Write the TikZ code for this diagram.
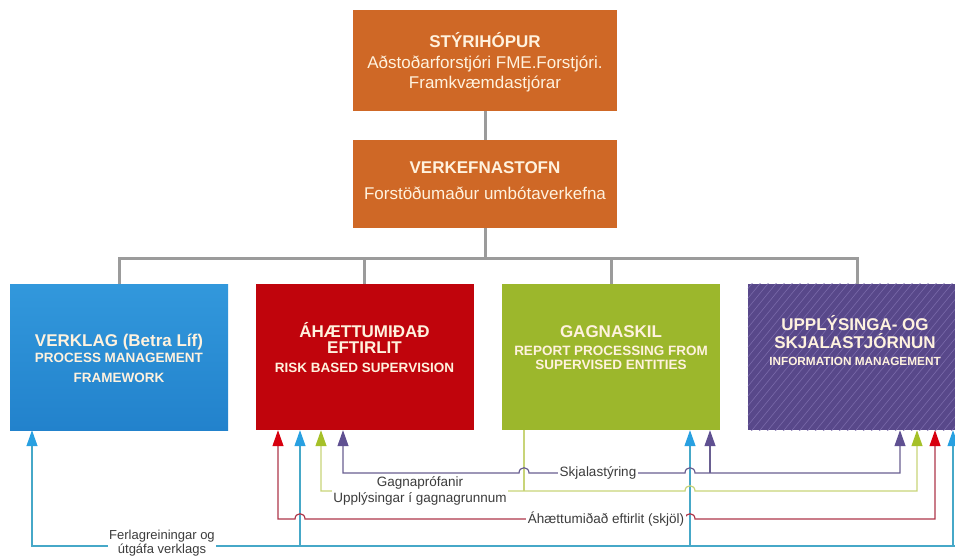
\documentclass[tikz,border=0pt]{standalone}
\usepackage{fontspec}
\setmainfont{Liberation Sans}
\usetikzlibrary{arrows.meta}
\definecolor{orangeB}{RGB}{207,104,38}
\definecolor{blueT}{RGB}{50,152,220}
\definecolor{blueBt}{RGB}{34,130,204}
\definecolor{redB}{RGB}{192,4,12}
\definecolor{greenB}{RGB}{156,183,44}
\definecolor{purpB}{RGB}{88,72,138}
\definecolor{hatchC}{RGB}{122,106,170}
\definecolor{treegray}{RGB}{155,155,155}
\definecolor{cream}{RGB}{255,242,222}
\definecolor{lblgray}{RGB}{60,60,60}
\definecolor{purpL}{RGB}{105,95,145}
\definecolor{greenL}{RGB}{200,212,120}
\definecolor{redL}{RGB}{175,55,75}
\definecolor{blueL}{RGB}{70,168,200}
\definecolor{purpA}{RGB}{95,80,145}
\definecolor{greenA}{RGB}{165,192,40}
\definecolor{redA}{RGB}{215,0,15}
\definecolor{blueA}{RGB}{40,160,225}
\begin{document}
\begin{tikzpicture}[x=1pt,y=-1pt,
  tree/.style={draw=treegray,line width=3},
  topbox/.style={fill=orangeB,minimum width=264,inner sep=0},
  lowbox/.style={minimum width=218,minimum height=146,inner sep=0},
  ttl/.style={anchor=base,text=cream,font=\fontsize{17}{20}\selectfont\bfseries,inner sep=0},
  tsub/.style={anchor=base,text=cream,font=\fontsize{17}{20}\selectfont,inner sep=0},
  ssub/.style={anchor=base,text=cream,font=\fontsize{13.5}{16}\selectfont\bfseries,inner sep=0},
  lbl/.style={text=lblgray,font=\fontsize{13.5}{15}\selectfont,inner sep=1.5},
  conn/.style={line width=1.2},
  arrBoth/.style={arrows={Triangle[width=11pt,length=16pt,color=#1]-Triangle[width=11pt,length=16pt,color=#1]}},
  arrEnd/.style={arrows={-Triangle[width=11pt,length=16pt,color=#1]}},
  arrStart/.style={arrows={Triangle[width=11pt,length=16pt,color=#1]-}}
]
\useasboundingbox (0,0) rectangle (955,555);
\clip (0,0) rectangle (955,555);
\fill[white] (0,0) rectangle (955,555);

% top boxes
\node[topbox,minimum height=101] (sty) at (485,60.5) {};
\node[topbox,minimum height=88] (verk) at (485,184) {};
\node[ttl] (styT) at (485,47) {STÝRIHÓPUR};
\node[tsub] (styA) at (485,68) {Aðstoðarforstjóri FME.Forstjóri.};
\node[tsub] (styB) at (485,88) {Framkvæmdastjórar};
\node[ttl] (verkT) at (485,173) {VERKEFNASTOFN};
\node[tsub] (verkA) at (485,199) {Forstöðumaður umbótaverkefna};

% lower boxes
\node[lowbox,top color=blueT,bottom color=blueBt] (bbox) at (119,357) {};
\node[lowbox,fill=redB] (rbox) at (364.5,357) {};
\node[lowbox,fill=greenB] (gbox) at (611,357) {};
\node[lowbox,fill=purpB] (pbox) at (857,357) {};
\begin{scope}
  \clip (pbox.south west) rectangle (pbox.north east);
  \foreach \i in {0,...,45}{
    \draw[hatchC,line width=0.6] (600+\i*8,440) -- ++(135,-165);
  }
\end{scope}

% tree connectors
\coordinate (j0) at (485,258);
\draw[tree] (sty.south) -- (verk.north);
\draw[tree] (verk.south) -- (j0);
\draw[tree] (bbox.north) |- (j0) -| (pbox.north);
\draw[tree] (rbox.north) -- (rbox.north |- j0);
\draw[tree] (gbox.north) -- (gbox.north |- j0);

% box texts
\node[ttl] (bT1) at (119,346) {VERKLAG (Betra Líf)};
\node[ssub] (bT2) at (119,362) {PROCESS MANAGEMENT};
\node[ssub] (bT3) at (119,382) {FRAMEWORK};
\node[ttl] (rT1) at (364.5,337) {ÁHÆTTUMIÐAÐ};
\node[ttl] (rT2) at (364.5,353) {EFTIRLIT};
\node[ssub] (rT3) at (364.5,372) {RISK BASED SUPERVISION};
\node[ttl] (gT1) at (611,337) {GAGNASKIL};
\node[ssub] (gT2) at (611,355) {REPORT PROCESSING FROM};
\node[ssub] (gT3) at (611,369) {SUPERVISED ENTITIES};
\node[ttl] (pT1) at (855,330) {UPPLÝSINGA- OG};
\node[ttl] (pT2) at (855,348) {SKJALASTJÓRNUN};
\node[ssub,font=\fontsize{11.8}{14}\selectfont\bfseries] (pT3) at (855,365) {INFORMATION MANAGEMENT};

% bus coordinates
\coordinate (b1) at (32,546);
\coordinate (b2) at (300,546);
\coordinate (b3) at (690,546);
\coordinate (b4) at (953,546);
\coordinate (bE) at (970,546);
\coordinate (r1) at (278,519);
\coordinate (r4) at (935,519);
\coordinate (g1) at (321,491);
\coordinate (gj) at (524,491);
\coordinate (g4) at (917,491);
\coordinate (p1) at (343,473);
\coordinate (p2) at (710,473);
\coordinate (p3) at (900,473);

% blue bus
\draw[conn,draw=blueL,arrStart=blueA] (bbox.south -| b1) -- (b1) -- (bE);
\draw[conn,draw=blueL,arrEnd=blueA] (b2) -- (rbox.south -| b2);
\draw[conn,draw=blueL,arrEnd=blueA] (b3) -- (gbox.south -| b3);
\draw[conn,draw=blueL,arrEnd=blueA] (b4) -- (pbox.south -| b4);

% red bus
\draw[conn,draw=redL,arrBoth=redA] (rbox.south -| r1) -- (r1) -- (295,519)
  .. controls (295,512) and (305,512) .. (305,519) -- (685,519)
  .. controls (685,512) and (695,512) .. (695,519) -- (r4) -- (pbox.south -| r4);

% green bus
\draw[conn,draw=greenL,arrBoth=greenA] (rbox.south -| g1) -- (g1) -- (685,491)
  .. controls (685,484) and (695,484) .. (695,491) -- (g4) -- (pbox.south -| g4);
\draw[conn,draw=greenL] (gbox.south -| gj) -- (gj);

% purple bus
\draw[conn,draw=purpL,arrBoth=purpA] (rbox.south -| p1) -- (p1) -- (519,473)
  .. controls (519,466) and (529,466) .. (529,473) -- (685,473)
  .. controls (685,466) and (695,466) .. (695,473) -- (p3) -- (pbox.south -| p3);
\draw[conn,draw=purpL,arrEnd=purpA] (p2) -- (gbox.south -| p2);

% labels
\node[lbl,fill=white] (lSk) at (598,473) {Skjalastýring};
\node[lbl] (lGp) at (420,483) {Gagnaprófanir};
\node[lbl,fill=white,inner ysep=2.5] (lUp) at (420,499) {Upplýsingar í gagnagrunnum};
\node[lbl,fill=white] (lAh) at (606,519) {Áhættumiðað eftirlit (skjöl)};
\node[lbl,fill=white,align=center,anchor=north,font=\fontsize{13}{13.5}\selectfont,inner sep=1] (lFe) at (162,529) {Ferlagreiningar og\\útgáfa verklags};
\end{tikzpicture}
\end{document}
